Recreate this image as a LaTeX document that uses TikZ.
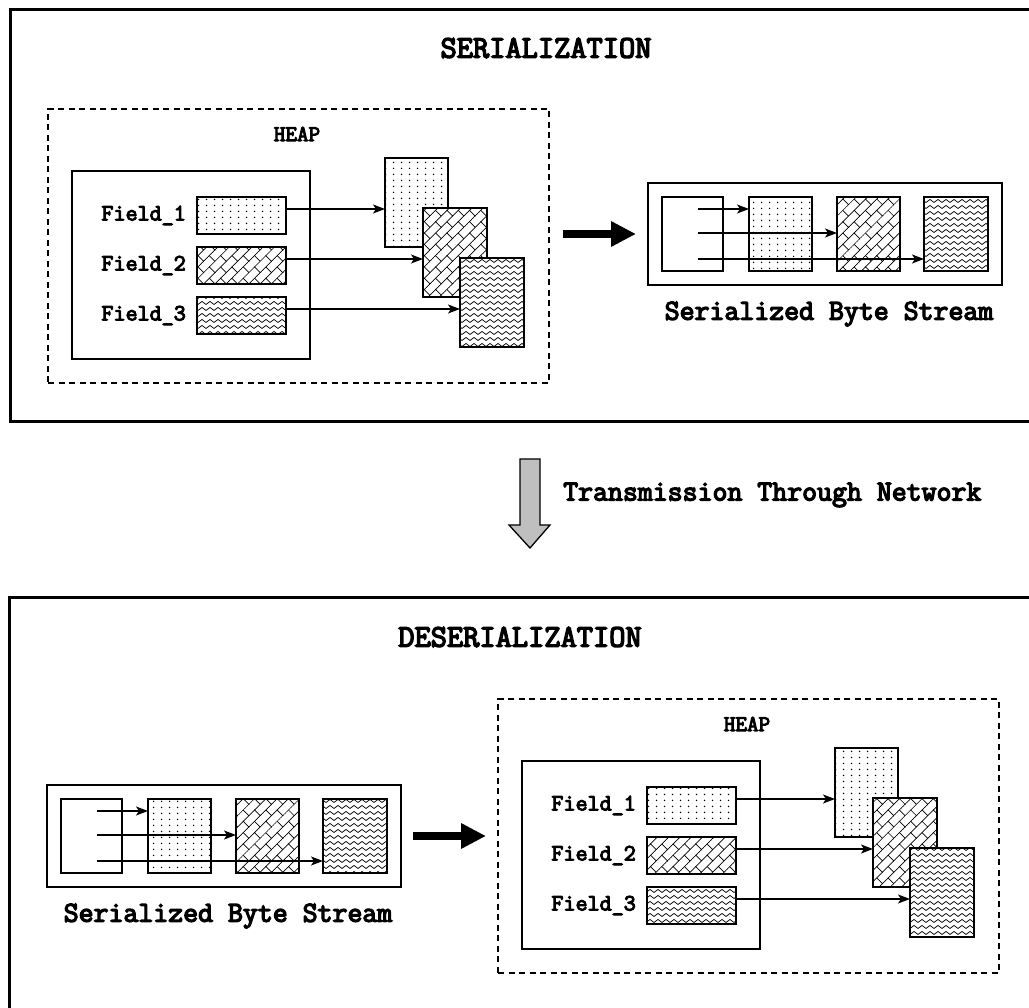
\documentclass[tikz,border=0pt]{standalone}
\usepackage{fontspec}
\newfontfamily\typebold{Latin Modern Mono}[FakeBold=4.5]
\usetikzlibrary{arrows.meta,patterns,patterns.meta}

% fill patterns for the three field types
\pgfdeclarepatternformonly{sparsedots}{\pgfpointorigin}{\pgfpoint{7.5pt}{5.5pt}}{\pgfpoint{7.5pt}{5.5pt}}{%
  \pgfpathcircle{\pgfpoint{3.75pt}{2.75pt}}{0.85pt}%
  \pgfusepath{fill}%
}
\pgfdeclarepatternformonly{wavelines}{\pgfpoint{-1pt}{-1pt}}{\pgfpoint{9pt}{7pt}}{\pgfpoint{8pt}{6pt}}{%
  \pgfsetlinewidth{0.7pt}%
  \pgfpathmoveto{\pgfpoint{0pt}{3pt}}%
  \pgfpathcurveto{\pgfpoint{1.33pt}{5pt}}{\pgfpoint{2.67pt}{5pt}}{\pgfpoint{4pt}{3pt}}%
  \pgfpathcurveto{\pgfpoint{5.33pt}{1pt}}{\pgfpoint{6.67pt}{1pt}}{\pgfpoint{8pt}{3pt}}%
  \pgfusepath{stroke}%
}
\pgfdeclarepattern{
  name=diagbricks,
  type=uncolored,
  bottom left={\pgfpoint{-0.5pt}{-0.5pt}},
  top right={\pgfpoint{16.5pt}{16.5pt}},
  tile size={\pgfpoint{16pt}{16pt}},
  tile transformation={\pgftransformrotate{45}},
  code={
    \pgfsetlinewidth{0.7pt}
    \pgfpathmoveto{\pgfpoint{-0.5pt}{0pt}}\pgfpathlineto{\pgfpoint{16.5pt}{0pt}}
    \pgfpathmoveto{\pgfpoint{-0.5pt}{8pt}}\pgfpathlineto{\pgfpoint{16.5pt}{8pt}}
    \pgfpathmoveto{\pgfpoint{0pt}{0pt}}\pgfpathlineto{\pgfpoint{0pt}{8pt}}
    \pgfpathmoveto{\pgfpoint{8pt}{8pt}}\pgfpathlineto{\pgfpoint{8pt}{16pt}}
    \pgfusepath{stroke}
  }
}

\tikzset{
  box/.style={draw, inner sep=0pt, outer sep=0pt, anchor=north west},
  panel/.style={box, line width=3pt},
  dashbox/.style={box, line width=1.6pt, dash pattern=on 6pt off 4.5pt},
  plainbox/.style={box, line width=1.3pt},
  dotfill/.style={box, line width=1.5pt, preaction={fill=white}, pattern=sparsedots},
  brickfill/.style={box, line width=1.5pt, preaction={fill=white}, pattern=diagbricks},
  wavefill/.style={box, line width=1.5pt, preaction={fill=white}, pattern=wavelines},
  ptr/.style={line width=1.3pt, -{Stealth[length=12pt,width=9pt,inset=3pt]}},
  bigarrow/.style={line width=8pt, -{Triangle[length=25pt,width=24pt]}},
  title/.style={font=\typebold\fontsize{31.5}{36}\selectfont, inner sep=0pt},
  caption/.style={font=\typebold\fontsize{29}{33}\selectfont, inner sep=0pt},
  fieldlbl/.style={font=\typebold\fontsize{23.4}{27}\selectfont, inner sep=0pt, anchor=east},
  heaplbl/.style={font=\typebold\fontsize{22.5}{26}\selectfont, inner sep=0pt},
  % heap: object with three fields pointing at their values
  heap/.pic={
    \node[dashbox, minimum width=501pt, minimum height=274pt] (-frame) at (0,0) {};
    \node[heaplbl] (-title) at (249,25) {HEAP};
    \node[plainbox, minimum width=238pt, minimum height=188pt] (-obj) at (24,62) {};
    \node[dotfill, minimum width=89pt, minimum height=37pt] (-f1) at (149,88) {};
    \node[brickfill, minimum width=89pt, minimum height=37pt] (-f2) at (149,138) {};
    \node[wavefill, minimum width=89pt, minimum height=37pt] (-f3) at (149,188) {};
    \node[fieldlbl] (-l1) at (138,106.5) {Field\_1};
    \node[fieldlbl] (-l2) at (138,156.5) {Field\_2};
    \node[fieldlbl] (-l3) at (138,206.5) {Field\_3};
    \node[dotfill, minimum width=63pt, minimum height=89pt] (-v1) at (337,49) {};
    \node[brickfill, minimum width=64pt, minimum height=89pt] (-v2) at (375,99) {};
    \node[wavefill, minimum width=64pt, minimum height=89pt] (-v3) at (412,149) {};
    \draw[ptr] ([yshift=6.5pt]-f1.east) -- ([yshift=6.5pt]-f1.east -| -v1.west);
    \draw[ptr] ([yshift=6.5pt]-f2.east) -- ([yshift=6.5pt]-f2.east -| -v2.west);
    \draw[ptr] ([yshift=6.5pt]-f3.east) -- ([yshift=6.5pt]-f3.east -| -v3.west);
  },
  % flat byte stream: header followed by the three field values
  stream/.pic={
    \node[box, line width=2.5pt, minimum width=354pt, minimum height=102pt] (-frame) at (0,0) {};
    \node[plainbox, minimum width=61pt, minimum height=74pt] (-hdr) at (14,14) {};
    \node[dotfill, line width=1.3pt, minimum width=63pt, minimum height=74pt] (-b1) at (101,14) {};
    \node[brickfill, line width=1.3pt, minimum width=63pt, minimum height=74pt] (-b2) at (189,14) {};
    \node[wavefill, line width=1.3pt, minimum width=64pt, minimum height=74pt] (-b3) at (276,14) {};
    \coordinate (-s1) at (50,26);
    \coordinate (-s2) at (50,50);
    \coordinate (-s3) at (50,76);
    \draw[ptr] (-s1) -- (-s1 -| -b1.west);
    \draw[ptr] (-s2) -- (-s2 -| -b2.west);
    \draw[ptr] (-s3) -- (-s3 -| -b3.west);
    \node[caption] (-caption) at (181,131) {Serialized Byte Stream};
  }
}

\begin{document}
\begin{tikzpicture}[x=1pt,y=-1pt]
\useasboundingbox (0,0) rectangle (1029,1008);

% serialization panel
\node[panel, minimum width=1040pt, minimum height=412pt] (serpanel) at (10,10) {};
\node[title] (sertitle) at (546,48) {SERIALIZATION};
\pic (sheap) at (48,109) {heap};
\pic (sstream) at (648,183) {stream};
\draw[bigarrow] ([xshift=14pt]sheap-frame.east |- sstream-frame.west) -- ([xshift=-12pt]sstream-frame.west);

% transfer between the two panels
\draw[line width=1.3pt, fill=black!25] (520,459) -- (540,459) -- (540,525) -- (550,525)
  -- (530,548) -- (509,525) -- (520,525) -- cycle;
\node[caption, anchor=west] (transfer) at (563,495) {Transmission Through Network};

% deserialization panel
\node[panel, minimum width=1040pt, minimum height=430pt] (despanel) at (9.5,597.5) {};
\node[title] (destitle) at (520,637) {DESERIALIZATION};
\pic (dstream) at (47,785) {stream};
\pic (dheap) at (498,699) {heap};
\draw[bigarrow] ([xshift=12pt]dstream-frame.east) -- ([xshift=-12pt]dstream-frame.east -| dheap-frame.west);
\end{tikzpicture}
\end{document}
